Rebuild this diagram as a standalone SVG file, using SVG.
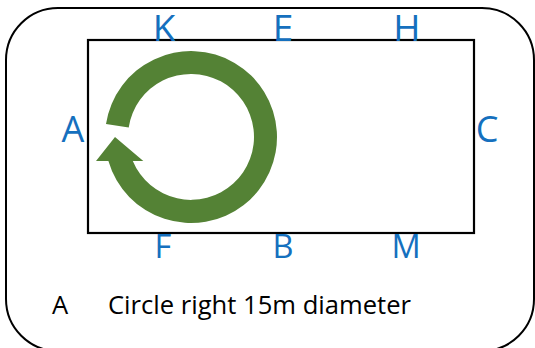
<svg xmlns="http://www.w3.org/2000/svg" width="535" height="348" viewBox="0 0 535 348">
<style>
.frame{fill:none;stroke:#000;stroke-width:2}
.arena{fill:none;stroke:#000;stroke-width:2.2}
.mk{font-family:"Open Sans","Liberation Sans",sans-serif;fill:#1570BE;text-anchor:middle}
.top{font-size:37px}
.bot{font-size:32.5px}
.side{font-size:36px}
.cap{font-family:"Open Sans","Liberation Sans",sans-serif;font-size:25.6px;fill:#000}
.arrow{fill:#548235}
</style>
<rect width="535" height="348" fill="#fff"/>
<g id="frame"><rect class="frame" x="6" y="8" width="528" height="343" rx="52" ry="52"/></g>
<g id="arena"><rect class="arena" x="88" y="40" width="386" height="193"/></g>
<g id="connectors">
<path id="circle-arrow" class="arrow" d="M106,124 A86,86 0 1 1 108.4,161 L96,161 L115,137 L143.3,161 L132.8,161 A63,63 0 1 0 128.7,127.5 Z"/>
</g>
<g id="markers">
<text class="mk top" x="164" y="41">K</text>
<text class="mk top" x="283" y="41">E</text>
<text class="mk top" x="407" y="41">H</text>
<text class="mk bot" x="163" y="258">F</text>
<text class="mk bot" x="283" y="258">B</text>
<text class="mk bot" x="406" y="258">M</text>
<text class="mk side" x="73" y="142">A</text>
<text class="mk side" x="487" y="142">C</text>
</g>
<g id="caption">
<text class="cap" x="52" y="314">A</text>
<text class="cap" x="108" y="314">Circle right 15m diameter</text>
</g>
</svg>
